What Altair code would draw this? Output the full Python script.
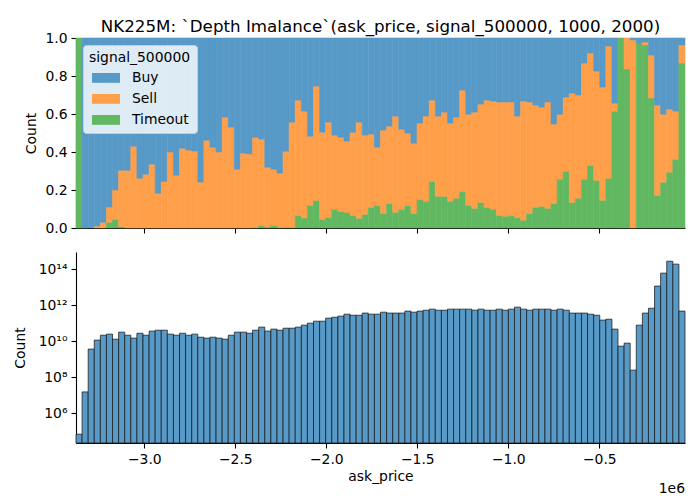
import altair as alt
import numpy as np
import pandas as pd

# x range of the histogram (units of 1e6), 100 equal bins
x_lo = -3.3753
x_hi = -0.029
n_bins = 100

signals = ["Buy", "Sell", "Timeout"]
signal_colors = ["#5799c7", "#ff9f4a", "#61b861"]

# share of Sell+Timeout per bin (upper edge of the orange band)
sell_timeout_share = [
    1.0, 0.0, 0.0, 0.01, 0.03, 0.11, 0.20, 0.304, 0.304, 0.43,
    0.262, 0.283, 0.336, 0.183, 0.245, 0.40, 0.278, 0.42, 0.41, 0.405,
    0.242, 0.462, 0.425, 0.40, 0.583, 0.531, 0.309, 0.394, 0.39, 0.478,
    0.468, 0.32, 0.309, 0.288, 0.404, 0.557, 0.673, 0.615, 0.483, 0.747,
    0.504, 0.557, 0.489, 0.478, 0.457, 0.504, 0.557, 0.489, 0.494, 0.425,
    0.515, 0.536, 0.589, 0.52, 0.499, 0.446, 0.552, 0.589, 0.673, 0.589,
    0.61, 0.552, 0.583, 0.726, 0.599, 0.61, 0.652, 0.673, 0.668, 0.663,
    0.663, 0.663, 0.589, 0.668, 0.663, 0.647, 0.636, 0.663, 0.547, 0.599,
    0.689, 0.71, 0.70, 0.868, 0.921, 0.826, 0.742, 0.958, 0.657, 1.0,
    1.0, 0.99, 0.974, 0.979, 0.91, 0.647, 0.599, 0.626, 0.615, 0.963,
]

# share of Timeout per bin
timeout_share = [
    1.0, 0.0, 0.0, 0.0, 0.0, 0.03, 0.046, 0.007, 0.0, 0.0,
    0.0, 0.0, 0.0, 0.0, 0.0, 0.0, 0.0, 0.0, 0.0, 0.0,
    0.0, 0.0, 0.0, 0.0, 0.0, 0.0, 0.0, 0.0, 0.0, 0.003,
    0.014, 0.005, 0.014, 0.004, 0.004, 0.004, 0.067, 0.053, 0.12, 0.146,
    0.046, 0.056, 0.099, 0.088, 0.083, 0.067, 0.051, 0.072, 0.109, 0.12,
    0.077, 0.13, 0.083, 0.099, 0.12, 0.077, 0.151, 0.141, 0.246, 0.167,
    0.167, 0.141, 0.157, 0.193, 0.12, 0.104, 0.135, 0.109, 0.099, 0.067,
    0.062, 0.067, 0.056, 0.041, 0.077, 0.109, 0.114, 0.104, 0.13, 0.257,
    0.299, 0.135, 0.157, 0.257, 0.33, 0.251, 0.146, 0.262, 0.615, 1.0,
    0.837, 0.0, 0.974, 0.963, 0.684, 0.172, 0.241, 0.294, 0.362, 0.868,
]

# total count per bin, as log10
count_log10 = [
    4.83, 7.18, 9.56, 10.06, 10.33, 10.39, 10.11, 10.5, 10.33, 10.17,
    10.44, 10.33, 10.56, 10.61, 10.61, 10.39, 10.33, 10.44, 10.33, 10.39,
    10.22, 10.17, 10.22, 10.17, 10.11, 10.33, 10.5, 10.5, 10.44, 10.61,
    10.78, 10.56, 10.67, 10.61, 10.72, 10.72, 10.78, 10.89, 11.0, 11.11,
    11.11, 11.28, 11.33, 11.39, 11.5, 11.44, 11.44, 11.56, 11.5, 11.5,
    11.61, 11.56, 11.56, 11.56, 11.67, 11.61, 11.67, 11.72, 11.78, 11.72,
    11.72, 11.78, 11.78, 11.78, 11.78, 11.72, 11.78, 11.72, 11.72, 11.78,
    11.72, 11.78, 11.89, 11.78, 11.72, 11.78, 11.78, 11.78, 11.72, 11.78,
    11.72, 11.56, 11.56, 11.56, 11.5, 11.44, 11.17, 11.22, 10.67, 9.72,
    9.89, 8.39, 10.89, 11.56, 11.83, 13.06, 13.78, 14.44, 14.28, 11.67,
]

x_ticks = [-3.0, -2.5, -2.0, -1.5, -1.0, -0.5]
y_log_ticks = [1e6, 1e8, 1e10, 1e12, 1e14]

edges = np.linspace(x_lo, x_hi, n_bins + 1)

rows = []
for i in range(n_bins):
    s = sell_timeout_share[i]
    t = timeout_share[i]
    for name, lo, hi in [("Timeout", 0.0, t), ("Sell", t, s), ("Buy", s, 1.0)]:
        if hi > lo:
            rows.append({"x0": edges[i], "x1": edges[i + 1], "signal": name, "lo": lo, "hi": hi})
shares = pd.DataFrame(rows)

counts = pd.DataFrame({
    "x0": edges[:-1],
    "x1": edges[1:],
    "count": [10 ** v for v in count_log10],
})

W = 609
H_TOP = 190
H_BOT = 191
FONT = "DejaVu Sans"
FS = 13.9

xscale = alt.Scale(domain=[x_lo, x_hi], nice=False, zero=False)
color_scale = alt.Scale(domain=signals, range=signal_colors)

top = alt.Chart(shares, title=alt.TitleParams(
    "NK225M: `Depth Imalance`(ask_price, signal_500000, 1000, 2000)",
    anchor="middle", frame="group", fontSize=16.7, fontWeight="normal",
    font=FONT, color="black", offset=-5,
)).mark_bar(strokeWidth=0.6).encode(
    x=alt.X("x0:Q", scale=xscale,
            axis=alt.Axis(values=x_ticks, labels=False, title=None)),
    x2="x1:Q",
    y=alt.Y("lo:Q", scale=alt.Scale(domain=[0, 1], nice=False),
            axis=alt.Axis(values=[0, 0.2, 0.4, 0.6, 0.8, 1.0], format=".1f", title="Count")),
    y2="hi:Q",
    color=alt.Color("signal:N", scale=color_scale, sort=signals, legend=alt.Legend(
        title="signal_500000", orient="top-left", offset=7,
        symbolType="M-2,-0.7H2V0.7H-2Z", symbolSize=196, symbolStrokeWidth=0,
        symbolOffset=10, labelOffset=19, rowPadding=7, padding=6,
        fillColor="rgba(255,255,255,0.8)", strokeColor="#cccccc", cornerRadius=3,
        titleFontWeight="normal", titleFontSize=FS, titleColor="black", titleFont=FONT,
        labelFontSize=FS, labelColor="black", labelFont=FONT, titlePadding=6,
    )),
    stroke=alt.Stroke("signal:N", scale=color_scale, legend=None),
).properties(width=W, height=H_TOP)

bars = alt.Chart(counts).mark_bar(
    color="#5799c7", stroke="#1a1a1a", strokeOpacity=0.75, strokeWidth=1
).encode(
    x=alt.X("x0:Q", scale=xscale,
            axis=alt.Axis(values=x_ticks, format=".1f", title="ask_price", titlePadding=4)),
    x2="x1:Q",
    y=alt.Y("count:Q", scale=alt.Scale(type="log", domain=[2.2e4, 9e14], nice=False),
            axis=alt.Axis(values=y_log_ticks, title="Count", titlePadding=11, labelExpr=(
                "datum.value == 1e6 ? '10⁶' : datum.value == 1e8 ? '10⁸' : "
                "datum.value == 1e10 ? '10¹⁰' : datum.value == 1e12 ? '10¹²' : '10¹⁴'"))),
    y2=alt.value(H_BOT),
)

offset_text = alt.Chart(pd.DataFrame({"t": ["1e6"]})).mark_text(
    align="right", baseline="middle", fontSize=FS, font=FONT, color="black"
).encode(text="t:N", x=alt.value(W), y=alt.value(H_BOT + 46))

bottom = alt.layer(bars, offset_text).properties(width=W, height=H_BOT)

chart = alt.vconcat(top, bottom, spacing=17).properties(
    padding={"left": 5, "top": 11, "right": 5, "bottom": 5}
).configure_view(strokeWidth=0).configure_axis(
    grid=False, domainColor="black", domainWidth=1.1, tickColor="black", tickWidth=1.1,
    tickSize=5, labelFontSize=FS, labelFont=FONT, labelColor="black", labelPadding=4,
    titleFontSize=FS, titleFont=FONT, titleColor="black", titleFontWeight="normal",
    titlePadding=6,
)

chart.save("out.html", embed_options={"renderer": "svg", "actions": False})
